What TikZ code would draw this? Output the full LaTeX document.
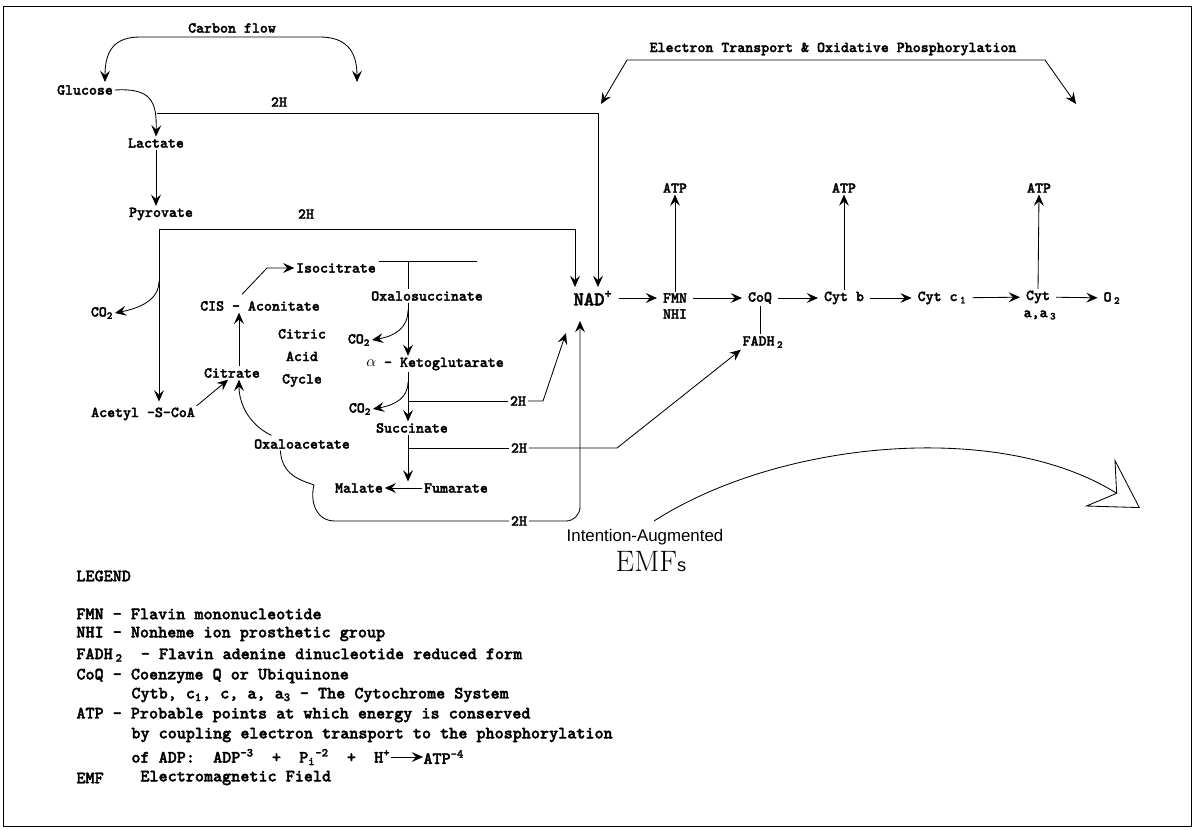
\documentclass[tikz,border=0pt]{standalone}
\usepackage{fontspec}
\newfontfamily\emfsans{Liberation Sans}
\newfontfamily\labfont{lmmonolt10-bold.otf}[FakeBold=2]
\usetikzlibrary{arrows.meta}

\tikzset{
  lab/.style={font=\labfont\fontsize{10.8}{11.5}\selectfont, inner sep=1pt},
  leg/.style={font=\labfont\fontsize{12.3}{14}\selectfont, anchor=west, inner sep=0pt},
  arr/.style={-{Stealth[length=8pt,width=7pt,inset=3pt]}},
  twoarr/.style={{Stealth[length=8pt,width=7pt,inset=3pt]}-{Stealth[length=8pt,width=7pt,inset=3pt]}},
  chain/.style={arr, shorten <=3pt, shorten >=3pt},
}

\begin{document}
\begin{tikzpicture}[x=0.025cm,y=-0.025cm,line width=0.6pt]
    \useasboundingbox (0,0) rectangle (1194,829);
    % Frame
    \draw[line width=0.5pt] (3,6) rectangle (1191,826);

    % Carbon flow side
    \node[lab] (carbon) at (232,28) {Carbon~flow};
    \node[lab] (glucose) at (85,90) {Glucose};
    \node[lab] (lactate) at (156,143) {Lactate};
    \node[lab] (pyrovate) at (161,214) {Pyrovate};
    \node[lab] (h2top) at (279,102) {2H};
    \node[lab] (h2pyr) at (306,214) {2H};
    \node[lab] (co2a) at (102,313) {CO\textsubscript{2}};
    \node[lab] (acetyl) at (143,414) {Acetyl -S-CoA};

    % Citric acid cycle
    \node[lab] (citrate) at (232,373) {Citrate};
    \node[lab] (cis) at (260,306) {CIS~-~Aconitate};
    \node[lab, align=center, font=\labfont\fontsize{10.8}{16}\selectfont] (cycle) at (302,358) {Citric\\Acid\\Cycle};
    \node[lab] (isocitrate) at (336,268) {Isocitrate};
    \node[lab] (oxalo) at (427,296) {Oxalosuccinate};
    \node[lab] (co2b) at (359,340) {CO\textsubscript{2}};
    \node[lab] (keto) at (435,364) {$\alpha$~-~Ketoglutarate};
    \node[lab] (co2c) at (360,409) {CO\textsubscript{2}};
    \node[lab] (succinate) at (412,428) {Succinate};
    \node[lab] (h2keto) at (518,401) {2H};
    \node[lab] (h2succ) at (519,448) {2H};
    \node[lab] (fumarate) at (456,488) {Fumarate};
    \node[lab] (malate) at (359,488) {Malate};
    \node[lab] (oxaloacetate) at (302,444) {Oxaloacetate};
    \node[lab] (h2oxa) at (519,521) {2H};

    % Electron transport chain
    \node[lab] (electron) at (833,49) {Electron Transport \& Oxidative Phosphorylation};
    \node[lab, font=\labfont\fontsize{14}{15}\selectfont] (nad) at (593,298) {NAD\textsuperscript{+}};
    \node[lab] (fmn) at (675,298) {FMN};
    \node[lab] (nhi) at (675,314) {NHI};
    \node[lab] (coq) at (760,298) {CoQ};
    \node[lab] (fadh) at (763,342) {FADH\,\textsubscript{2}};
    \node[lab] (cytb) at (844,298) {Cyt~b};
    \node[lab] (cytc) at (942,298) {Cyt~c\,\textsubscript{1}};
    \node[lab] (cyt) at (1038,297) {Cyt};
    \node[lab] (aa3) at (1040,315) {a,a\,\textsubscript{3}};
    \node[lab] (o2) at (1112,298) {O\,\textsubscript{2}};
    \node[lab] (atp1) at (675,188) {ATP};
    \node[lab] (atp2) at (844,188) {ATP};
    \node[lab] (atp3) at (1039,188) {ATP};

    % EMF label
    \node[font=\emfsans\fontsize{12}{14}\selectfont] (intent) at (645,537) {Intention-Augmented};
    \node (emf) at (651,561) {\fontsize{21}{24}\selectfont EMF{\emfsans\fontsize{13}{14}\selectfont s}};

    % Free ends
    \coordinate (cfl) at (105,82);
    \coordinate (cfr) at (357,82);
    \coordinate (etl) at (601,104);
    \coordinate (etr) at (1076,104);
    \coordinate (nadinl) at (575,287);
    \coordinate (nadinr) at (598,287);
    \coordinate (nadinb) at (580,321);
    \coordinate (nadind) at (566,333);
    \coordinate (gluc2h) at (157,113);
    \coordinate (pyr2h) at (159,229);
    \coordinate (pyrco) at (159,281);
    \coordinate (cl) at (239,0);
    \coordinate (cx) at (408,0);
    \coordinate (isol) at (379,261);
    \coordinate (isor) at (477,261);
    \coordinate (oxco) at (408,310);
    \coordinate (ketco) at (408,382);
    \coordinate (keth) at (408,401);
    \coordinate (such) at (408,448);
    \coordinate (emfs0) at (654,521);
    \coordinate (emft) at (1140,508);

    % Brackets
    \draw[twoarr] (cfl) .. controls (105,50) and (115,37) .. (140,37) -- (320,37) .. controls (345,37) and (357,50) .. (cfr);
    \draw[twoarr] (etl) -- (627,60) -- (1045,60) -- (etr);

    % Glycolysis
    \draw[arr] (glucose.east) .. controls (150,88) and (157,100) .. (lactate.north);
    \draw[arr] (gluc2h) -| (nadinr);
    \draw[arr] (lactate.south) -- (lactate.south |- pyrovate.north);
    \draw[arr] (pyr2h) -| (nadinl);
    \draw[arr, shorten >=3pt] (pyr2h) -- (pyr2h |- acetyl.north);
    \draw[arr] (pyrco) .. controls (159,300) and (140,308) .. (co2a.east);
    \draw[arr] (acetyl.north east) -- (citrate.-120);

    % Cycle
    \draw[arr] (cl |- citrate.north) -- (cl |- cis.south);
    \draw[arr] (cis.north) ++(-18,-5) -- (267,268) -- (isocitrate.west);
    \draw (isol) -- (isor);
    \draw (cx |- isol) -- (cx |- oxalo.north);
    \draw[arr] (cx |- oxalo.south) -- (cx |- keto.north);
    \draw[arr] (oxco) .. controls (408,328) and (395,336) .. (co2b.east);
    \draw[arr] (cx |- keto.south) -- (cx |- succinate.north);
    \draw[arr] (ketco) .. controls (408,398) and (395,405) .. (co2c.east);
    \draw (keth) -- (h2keto.west);
    \draw[arr] (h2keto.east) -- (543,401) -- (nadind);
    \draw[arr] (cx |- succinate.south) -- (cx |- fumarate.north);
    \draw (such) -- (h2succ.west);
    \draw[arr] (h2succ.east) -- (617,448) -- (fadh.south west);
    \draw[arr] (fumarate.west) -- (malate.east);
    \draw[arr] (oxaloacetate.north west) ++(19,-2) .. controls (250,425) and (239,405) .. (cl |- citrate.south);
    \draw (oxaloacetate.south west) ++(28,0) .. controls (282,475) and (300,480) .. (314,485)
        .. controls (310,500) and (315,521) .. (335,521) -- (h2oxa.west);
    \draw[arr, rounded corners=10pt] (h2oxa.east) -| (nadinb);

    % Chain
    \draw[chain] (nad) -- (fmn);
    \draw[chain] (fmn) -- (coq);
    \draw[chain] (coq) -- (cytb);
    \draw[chain] (cytb) -- (cytc);
    \draw[chain] (cytc) -- (cyt);
    \draw[chain] (cyt) -- (o2);
    \draw (coq.south) -- (coq.south |- fadh.north);
    \draw[arr] (fmn.north) -- (atp1.south);
    \draw[arr] (cytb.north) -- (atp2.south);
    \draw[arr] (cyt.north) -- (atp3.south);

    % EMF arrow
    \draw[-{Stealth[open,length=34pt,width=40pt,inset=14pt]}] (emfs0) .. controls (780,440) and (1000,420) .. (emft);

    % Legend
    \node[leg] (leghead) at (76,576) {LEGEND};
    \node[leg] (legfmn) at (76,614) {FMN - Flavin mononucleotide};
    \node[leg] (legnhi) at (76,634) {NHI - Nonheme ion prosthetic group};
    \node[leg] (legfadh) at (76,655) {FADH\,\textsubscript{2}~~-~Flavin adenine dinucleotide reduced form};
    \node[leg] (legcoq) at (76,676) {CoQ - Coenzyme Q or Ubiquinone};
    \node[leg] (legcyt) at (131,695) {Cytb, c\textsubscript{1}, c, a, a\textsubscript{3} - The Cytochrome System};
    \node[leg] (legatp) at (76,715) {ATP - Probable points at which energy is conserved};
    \node[leg] (legby) at (131,735) {by coupling electron transport to the phosphorylation};
    \node[leg] (legadp) at (131,757) {of ADP:~~ADP\textsuperscript{-3}~~+~~P\textsubscript{i}\textsuperscript{-2}~~+~~H\textsuperscript{+}};
    \node[leg] (legatp4) at (423,757) {ATP\textsuperscript{-4}};
    \draw[arr] (legadp.east) -- (legatp4.west);
    \node[leg] (legemf) at (76,778) {EMF};
    \node[leg] (legemfx) at (140,778) {Electromagnetic Field};
\end{tikzpicture}
\end{document}
